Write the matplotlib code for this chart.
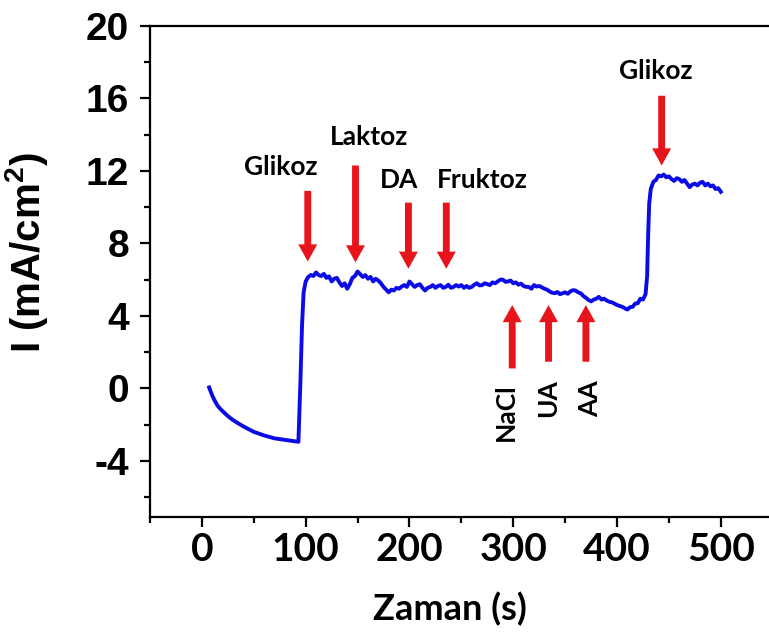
import matplotlib
matplotlib.use("Agg")
import matplotlib.pyplot as plt
from matplotlib.ticker import MultipleLocator

plt.rcParams['mathtext.fontset'] = 'custom'
plt.rcParams['mathtext.rm'] = 'Liberation Sans:bold'
plt.rcParams['mathtext.bf'] = 'Liberation Sans:bold'
plt.rcParams['axes.unicode_minus'] = False

# Chronoamperometric response: time (s) and current density (mA/cm^2)
time_s = [7, 10, 12, 15, 18, 22, 26, 30, 35, 40, 45, 50, 55, 60, 65, 70, 75, 80, 85, 90, 93,
          95, 96.5, 98,
          100, 102.5, 105, 107.5, 110, 112.5, 115, 117.5, 120, 122.5, 125, 127.5, 130, 132.5,
          135, 137.5, 140, 142.5, 145, 147.5, 150, 152.5, 155, 157.5, 160, 162.5, 165, 167.5,
          170, 172.5, 175, 177.5, 180, 182.5, 185, 187.5, 190, 192.5, 195, 197.5, 200, 202.5,
          205, 207.5, 210, 212.5, 215, 217.5, 220, 222.5, 225, 227.5, 230, 232.5, 235, 237.5,
          240, 242.5, 245, 247.5, 250, 252.5, 255, 257.5, 260, 262.5, 265, 267.5, 270, 272.5,
          275, 277.5, 280, 282.5, 285, 287.5, 290, 292.5, 295, 297.5, 300, 302.5, 305, 307.5,
          310, 312.5, 315, 317.5, 320, 322.5, 325, 327.5, 330, 332.5, 335, 337.5, 340, 342.5,
          345, 347.5, 350, 352.5, 355, 357.5, 360, 362.5, 365, 367.5, 370, 372.5, 375, 377.5,
          380, 382.5, 385, 387.5, 390, 392.5, 395, 397.5, 400, 402.5, 405, 407.5, 410, 412.5,
          415, 417.5, 420, 422.5, 425, 427.5,
          429, 430, 431, 432.5, 435, 437.5, 440, 442.5, 445, 447.5, 450, 452.5, 455, 457.5,
          460, 462.5, 465, 467.5, 470, 472.5, 475, 477.5, 480, 482.5, 485, 487.5, 490, 492.5,
          495, 497.5, 500]
current = [0.05, -0.4, -0.64, -0.95, -1.15, -1.37, -1.58, -1.75, -1.93, -2.1, -2.25, -2.4,
           -2.5, -2.6, -2.68, -2.76, -2.8, -2.84, -2.88, -2.92, -2.95,
           0.5, 3.5, 5.3,
           5.90, 6.15, 6.26, 6.20, 6.40, 6.25, 6.20, 6.32, 6.10, 6.18, 5.90, 6.05, 6.10, 5.85,
           5.65, 5.80, 5.50, 5.75, 6.10, 6.20, 6.45, 6.30, 6.15, 6.25, 6.05, 6.15, 5.90, 6.05,
           5.95, 5.80, 5.60, 5.45, 5.30, 5.45, 5.40, 5.55, 5.50, 5.62, 5.70, 5.60, 5.90, 5.75,
           5.60, 5.70, 5.75, 5.55, 5.40, 5.55, 5.60, 5.70, 5.55, 5.65, 5.70, 5.55, 5.60, 5.72,
           5.55, 5.60, 5.70, 5.62, 5.70, 5.55, 5.65, 5.55, 5.60, 5.72, 5.80, 5.68, 5.70, 5.80,
           5.75, 5.70, 5.85, 5.80, 5.90, 6.00, 6.00, 5.88, 5.90, 5.95, 5.80, 5.85, 5.72, 5.78,
           5.65, 5.60, 5.60, 5.50, 5.70, 5.62, 5.65, 5.58, 5.50, 5.45, 5.35, 5.28, 5.25, 5.32,
           5.20, 5.25, 5.30, 5.22, 5.35, 5.42, 5.40, 5.30, 5.25, 5.10, 5.00, 4.88, 4.80, 4.90,
           4.95, 5.05, 4.90, 4.95, 4.85, 4.78, 4.75, 4.68, 4.60, 4.55, 4.50, 4.42, 4.35, 4.48,
           4.50, 4.68, 4.70, 4.95, 4.90, 5.20,
           6.2, 8.5, 10.2, 11.0, 11.4, 11.5, 11.75, 11.7, 11.8, 11.65, 11.7, 11.55, 11.45, 11.6,
           11.55, 11.4, 11.5, 11.3, 11.1, 11.25, 11.3, 11.2, 11.35, 11.4, 11.2, 11.3, 11.15, 11.2,
           11.0, 11.05, 10.85]

# Analyte additions: name, time, arrow tail, arrow tip, label position
down_names = ["Glikoz", "Laktoz", "DA", "Fruktoz", "Glikoz"]
down_x = [102, 148, 199, 235.5, 443]
down_tail = [10.9, 12.3, 10.25, 10.25, 16.15]
down_tip = [7.0, 6.95, 6.6, 6.6, 12.3]
down_label_x = [76, 161, 190, 270, 437]
down_label_y = [12.2, 13.9, 11.5, 11.5, 17.5]

up_names = ["NaCl", "UA", "AA"]
up_x = [299, 334, 370]
up_tail = [1.1, 1.47, 1.47]
up_tip = [4.6, 4.6, 4.6]
up_label_x = [293, 334, 374]
up_label_y = [-1.3, -0.55, -0.55]

x_ticks = [0, 100, 200, 300, 400, 500]
y_ticks = [-4, 0, 4, 8, 12, 16, 20]

W, H = 769, 637
fig = plt.figure(figsize=(W / 100, H / 100), dpi=100)
left, right, top, bottom = 150, 772.7, 26, 517
ax = fig.add_axes([left / W, 1 - bottom / H, (right - left) / W, (bottom - top) / H])

ax.plot(time_s, current, color='#0b0be6', lw=2.8, solid_joinstyle='round')

red = '#e8141c'
arrow_style = 'simple,head_width=1.05,head_length=0.95,tail_width=0.38'
for name, x, t0, t1, lx, ly in zip(down_names, down_x, down_tail, down_tip,
                                   down_label_x, down_label_y):
    ax.annotate('', xy=(x, t1), xytext=(x, t0),
                arrowprops=dict(arrowstyle=arrow_style, color=red, lw=0,
                                mutation_scale=13, shrinkA=0, shrinkB=0))
    ax.text(lx, ly, name, ha='center', va='center', fontsize=19,
            fontweight='bold', family='Lato')

for name, x, t0, t1, lx, ly in zip(up_names, up_x, up_tail, up_tip,
                                   up_label_x, up_label_y):
    ax.annotate('', xy=(x, t1), xytext=(x, t0),
                arrowprops=dict(arrowstyle=arrow_style, color=red, lw=0,
                                mutation_scale=13, shrinkA=0, shrinkB=0))
    ax.text(lx, ly, name, ha='center', va='center', fontsize=19,
            fontweight='bold', family='Lato', rotation=90)

ax.set_xlim(-50, 550)
ax.set_ylim(-7.1, 20)
ax.set_xticks(x_ticks)
ax.set_yticks(y_ticks)
ax.xaxis.set_minor_locator(MultipleLocator(50))
ax.yaxis.set_minor_locator(MultipleLocator(2))

for sp in ax.spines.values():
    sp.set_linewidth(1.6)
ax.tick_params(which='major', direction='out', length=7, width=1.6)
ax.tick_params(which='minor', direction='out', length=4.5, width=1.6)
ax.tick_params(axis='y', pad=8)
ax.tick_params(axis='x', pad=4)

for lab in ax.get_yticklabels():
    lab.set_fontfamily('Liberation Sans')
    lab.set_fontweight('bold')
    lab.set_fontsize(28)
for lab in ax.get_xticklabels():
    lab.set_fontfamily('Lato')
    lab.set_fontweight('bold')
    lab.set_fontsize(28)

ax.set_xlabel('Zaman (s)', fontsize=26, fontweight='bold', family='Lato')
ax.xaxis.set_label_coords((450 - left) / (right - left), -(592 - bottom) / (bottom - top))
ax.set_ylabel(r'I (mA/cm$^{2}$)', fontsize=29, fontweight='bold', family='Liberation Sans')
ax.yaxis.set_label_coords(-(150 - 50) / (right - left), (bottom - 253) / (bottom - top))

fig.savefig('out.png', dpi=100)
